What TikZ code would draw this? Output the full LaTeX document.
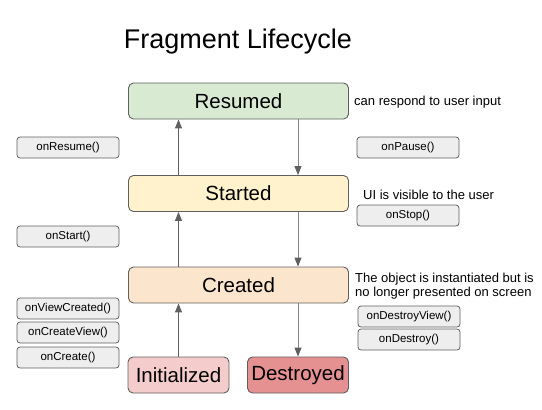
\documentclass[tikz,border=0pt]{standalone}
\usepackage{fontspec}
\setmainfont{Liberation Sans}
\definecolor{resumedfill}{HTML}{D9EAD3}
\definecolor{startedfill}{HTML}{FFF2CC}
\definecolor{createdfill}{HTML}{FCE5CD}
\definecolor{initfill}{HTML}{F4CCCC}
\definecolor{destroyfill}{HTML}{E69191}
\definecolor{methodfill}{HTML}{EEEEEE}
\definecolor{edgegray}{HTML}{5F5F5F}
\definecolor{downgray}{HTML}{858585}
\tikzset{
  state/.style={draw=edgegray, line width=0.9pt, rounded corners=5pt, minimum width=220pt, minimum height=36pt, inner sep=0pt, font=\fontsize{20.5}{22}\selectfont},
  endstate/.style={state, minimum width=101pt},
  method/.style={draw=edgegray, fill=methodfill, line width=0.8pt, rounded corners=3pt, minimum width=102pt, minimum height=21pt, inner sep=0pt, font=\fontsize{11.5}{13}\selectfont},
  note/.style={anchor=west, inner sep=0pt, align=left, font=\fontsize{13}{14.5}\selectfont},
  uparr/.style={draw=edgegray, line width=1pt, -{Triangle[length=9pt, width=7pt]}},
  dnarr/.style={draw=downgray, line width=1pt, -{Triangle[length=9pt, width=7pt, color=edgegray]}}
}
\usetikzlibrary{arrows.meta}
\begin{document}
\begin{tikzpicture}[x=1pt,y=-1pt]
\useasboundingbox (0,0) rectangle (542,410);
\node (title) at (238,42) {\fontsize{27}{30}\selectfont Fragment Lifecycle};
% states
\node[state, fill=resumedfill] (resumed) at (238.5,101) {Resumed};
\node[state, fill=startedfill] (started) at (238.5,193.5) {Started};
\node[state, fill=createdfill] (created) at (238.5,285) {Created};
\node[endstate, fill=initfill] (initialized) at (178.5,375) {Initialized};
\node[endstate, fill=destroyfill] (destroyed) at (298,375) {Destroyed};
\coordinate (upx) at (178.5,0);
\coordinate (dnx) at (298,0);
% transitions
\draw[uparr] (started.north -| upx) -- (resumed.south -| upx);
\draw[dnarr] (resumed.south -| dnx) -- (started.north -| dnx);
\draw[uparr] (created.north -| upx) -- (started.south -| upx);
\draw[dnarr] (started.south -| dnx) -- (created.north -| dnx);
\draw[uparr] (initialized) -- (created.south -| upx);
\draw[dnarr] (created.south -| dnx) -- (destroyed);
% callbacks, left
\node[method] (onresume) at (68,147.5) {onResume()};
\node[method] (onstart) at (68,236.5) {onStart()};
\node[method] (onviewcreated) at (68,308.5) {onViewCreated()};
\node[method] (oncreateview) at (68,332.5) {onCreateView()};
\node[method] (oncreate) at (68,357.5) {onCreate()};
% callbacks, right
\node[method] (onpause) at (408,147.5) {onPause()};
\node[method] (onstop) at (408,215.5) {onStop()};
\node[method] (ondestroyview) at (409,316.5) {onDestroyView()};
\node[method] (ondestroy) at (409,339.5) {onDestroy()};
% notes
\node[note] (resumednote) at (354,102) {can respond to user input};
\node[note] (startednote) at (363,195) {UI is visible to the user};
\node[note] (creatednote) at (355,286) {The object is instantiated but is\\no longer presented on screen};
\end{tikzpicture}
\end{document}
